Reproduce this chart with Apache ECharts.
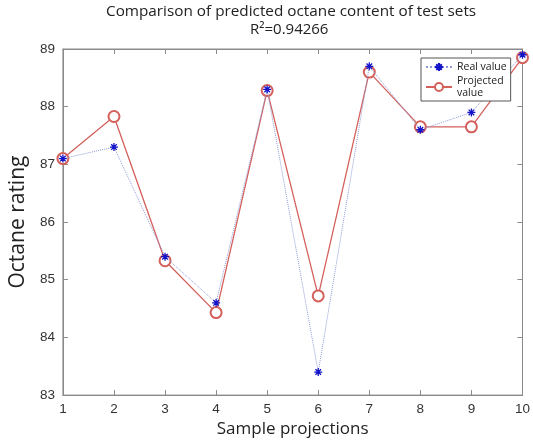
<!DOCTYPE html>
<html>
<head>
<meta charset="utf-8">
<script src="https://cdn.jsdelivr.net/npm/echarts@6/dist/echarts.min.js"></script>
<style>html,body{margin:0;padding:0;background:#fff}#c{width:533px;height:443px}</style>
</head>
<body>
<div id="c"></div>
<script>
const samples = ['1','2','3','4','5','6','7','8','9','10'];
const realValues = [87.1, 87.3, 85.4, 84.6, 88.3, 83.4, 88.7, 87.6, 87.9, 88.9];
const projectedValues = [87.1, 87.83, 85.33, 84.43, 88.28, 84.72, 88.6, 87.65, 87.65, 88.85];
const yTicks = [83, 84, 85, 86, 87, 88, 89];
const titleText = 'Comparison of predicted octane content of test sets';
const subtitleText = 'R\u00b2=0.94266';

const chart = echarts.init(document.getElementById('c'));
const star = 'path://M0,-5 L0,5 M-5,0 L5,0 M-3.5,-3.5 L3.5,3.5 M-3.5,3.5 L3.5,-3.5';
const axisColor = '#8a8a8a';
const labelStyle = {color: '#333', fontSize: 13.5, fontFamily: 'Liberation Sans'};

const realData = realValues.map((v, i) => [Number(samples[i]), v]);
const projData = projectedValues.map((v, i) => [Number(samples[i]), v]);

chart.setOption({
  animation: false,
  backgroundColor: '#fff',
  graphic: [
    {type: 'text', left: 106, top: 4, style: {text: titleText, font: '15.3px "Open Sans"', fill: '#222'}},
    {type: 'text', left: 250, top: 22, style: {text: subtitleText, font: '15px "Open Sans"', fill: '#222'}}
  ],
  grid: {left: 62, right: 9, top: 49, bottom: 46, show: true, borderColor: axisColor, borderWidth: 1},
  legend: {
    orient: 'vertical', left: 421, top: 58, padding: [3, 4, 2, 4],
    itemWidth: 26, itemHeight: 10, itemGap: 2,
    backgroundColor: '#fff', borderColor: '#555', borderWidth: 1, borderRadius: 0,
    textStyle: {fontSize: 10.5, fontFamily: 'Open Sans', color: '#222', lineHeight: 12},
    formatter: n => n === 'Projected value' ? 'Projected\nvalue' : n,
    data: ['Real value', 'Projected value']
  },
  xAxis: [{
    type: 'value', min: 1, max: 10, interval: 1,
    name: 'Sample projections', nameLocation: 'middle', nameGap: 23,
    nameTextStyle: {fontSize: 17, fontFamily: 'Open Sans', color: '#222'},
    axisLine: {lineStyle: {color: axisColor}},
    axisTick: {inside: true, length: 5, lineStyle: {color: axisColor}},
    axisLabel: Object.assign({margin: 7}, labelStyle),
    splitLine: {show: false}
  }, {
    type: 'value', position: 'top', min: 1, max: 10, interval: 1,
    axisLine: {lineStyle: {color: axisColor}},
    axisTick: {inside: true, length: 5, lineStyle: {color: axisColor}},
    axisLabel: {show: false}, splitLine: {show: false}
  }],
  yAxis: [{
    type: 'value', min: yTicks[0], max: yTicks[yTicks.length - 1], interval: 1,
    name: 'Octane rating', nameLocation: 'middle', nameGap: 33,
    nameTextStyle: {fontSize: 21, fontFamily: 'Open Sans', color: '#222'},
    axisLine: {show: true, lineStyle: {color: axisColor}},
    axisTick: {show: true, inside: true, length: 5, lineStyle: {color: axisColor}},
    axisLabel: Object.assign({margin: 8}, labelStyle),
    splitLine: {show: false}
  }, {
    type: 'value', position: 'right', min: yTicks[0], max: yTicks[yTicks.length - 1], interval: 1,
    axisLine: {show: true, lineStyle: {color: axisColor}},
    axisTick: {show: true, inside: true, length: 5, lineStyle: {color: axisColor}},
    axisLabel: {show: false}, splitLine: {show: false}
  }],
  series: [{
    name: 'Real value', type: 'line', data: realData,
    symbol: star, symbolSize: 8,
    itemStyle: {color: 'rgba(0,0,0,0)', borderColor: '#1414c8', borderWidth: 1.3},
    lineStyle: {color: '#8e9bd6', width: 1, type: 'dotted'},
    z: 3
  }, {
    name: 'Projected value', type: 'line', data: projData,
    symbol: 'emptyCircle', symbolSize: 11,
    itemStyle: {color: '#d4605c', borderColor: '#d4605c', borderWidth: 0.9},
    lineStyle: {color: '#d4605c', width: 1.3},
    z: 2
  }]
});
</script>
</body>
</html>
